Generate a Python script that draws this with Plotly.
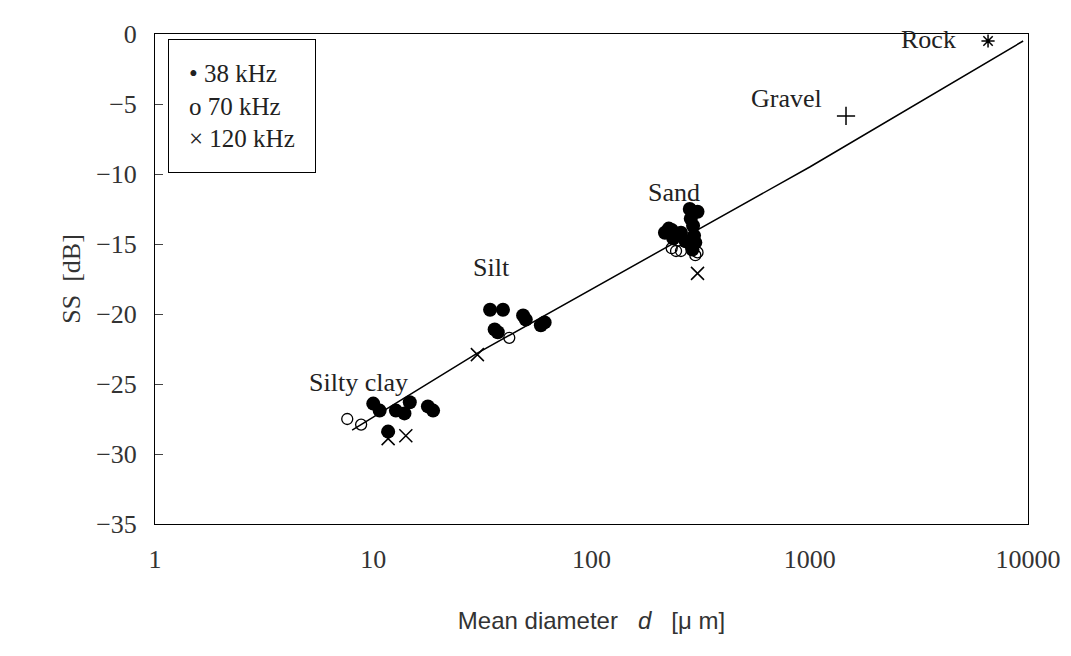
import math
import plotly.graph_objects as go

line_d = [8, 30, 1000, 9500]
line_ss = [-28.3, -22.8, -9.5, -0.5]

f38_d = [10, 10.7, 12.7, 13.9, 14.7, 17.8, 18.8, 11.7,
         34.3, 39.3, 37.2, 36, 48.6, 50, 58.6, 61,
         217, 226, 237, 257, 282, 292, 299, 306, 233, 285, 290, 270, 295]
f38_ss = [-26.4, -26.9, -26.9, -27.1, -26.3, -26.6, -26.9, -28.4,
          -19.7, -19.7, -21.3, -21.1, -20.1, -20.4, -20.8, -20.6,
          -14.2, -13.9, -14.6, -14.2, -12.5, -13.7, -14.9, -12.7, -14.0, -13.2, -15.4, -14.8, -14.4]
o70_d = [7.6, 8.8, 42, 233, 244, 257, 299, 306]
o70_ss = [-27.5, -27.9, -21.7, -15.3, -15.5, -15.5, -15.8, -15.6]
x120_d = [11.7, 14.1, 30, 306]
x120_ss = [-28.9, -28.7, -22.9, -17.1]
gravel = (1466, -5.85)
rock = (6560, -0.5)

labels = [("Rock", 3500, -0.4), ("Gravel", 780, -4.6), ("Sand", 240, -11.3),
          ("Silt", 35, -16.7), ("Silty clay", 8.6, -24.9)]

fig = go.Figure()
fig.add_trace(go.Scatter(x=line_d, y=line_ss, mode="lines", line=dict(color="black", width=1.5)))
fig.add_trace(go.Scatter(x=f38_d, y=f38_ss, mode="markers",
                         marker=dict(symbol="circle", size=14, color="black")))
fig.add_trace(go.Scatter(x=o70_d, y=o70_ss, mode="markers",
                         marker=dict(symbol="circle-open", size=11, color="black", line=dict(width=1.3))))
fig.add_trace(go.Scatter(x=x120_d, y=x120_ss, mode="markers",
                         marker=dict(symbol="x-thin-open", size=13, color="black", line=dict(width=1.5))))
fig.add_trace(go.Scatter(x=[gravel[0]], y=[gravel[1]], mode="markers",
                         marker=dict(symbol="cross-thin-open", size=13, color="black", line=dict(width=1.5))))
fig.add_trace(go.Scatter(x=[rock[0]], y=[rock[1]], mode="markers",
                         marker=dict(symbol="asterisk-open", size=11, color="black", line=dict(width=1.5))))

serif = "Liberation Serif, Times New Roman, serif"
for t, x, y in labels:
    fig.add_annotation(x=math.log10(x), y=y, xref="x", yref="y", text=t, showarrow=False,
                       font=dict(family=serif, size=26, color="#222"), xanchor="center")

fig.add_annotation(xref="paper", yref="paper", x=0.015, y=0.99, xanchor="left", yanchor="top",
                   text="• 38 kHz<br>o 70 kHz<br>× 120 kHz", align="left", showarrow=False,
                   font=dict(family=serif, size=25, color="#222"),
                   bordercolor="black", borderwidth=1, borderpad=20, bgcolor="white")

fig.update_layout(
    width=1071, height=656, showlegend=False,
    plot_bgcolor="white", paper_bgcolor="white",
    margin=dict(l=147, r=51, t=22, b=140),
    xaxis=dict(type="log", range=[0, 4], tickvals=[1, 10, 100, 1000, 10000],
               ticktext=["1", "10", "100", "1000", "10000"], ticks="",
               ticklabelstandoff=12,
               showgrid=False, showline=True, linecolor="black", mirror=True, zeroline=False,
               tickfont=dict(family=serif, size=26, color="#333"),
               title=dict(text="Mean diameter   <i>d</i>   [μ m]",
                          font=dict(family="Liberation Sans, Arial, sans-serif", size=24, color="#333"),
                          standoff=38)),
    yaxis=dict(range=[-35, 0], ticks="inside", ticklen=8, ticklabelstandoff=12,
               showgrid=False, showline=True, linecolor="black", mirror=True, zeroline=False,
               tickfont=dict(family=serif, size=26, color="#333"),
               tickvals=[0, -5, -10, -15, -20, -25, -30, -35],
               ticktext=["0", "−5", "−10", "−15", "−20", "−25", "−30", "−35"],
               title=dict(text="SS  [dB]", font=dict(family=serif, size=26, color="#333"), standoff=8)),
)
fig.write_html("out.html")
